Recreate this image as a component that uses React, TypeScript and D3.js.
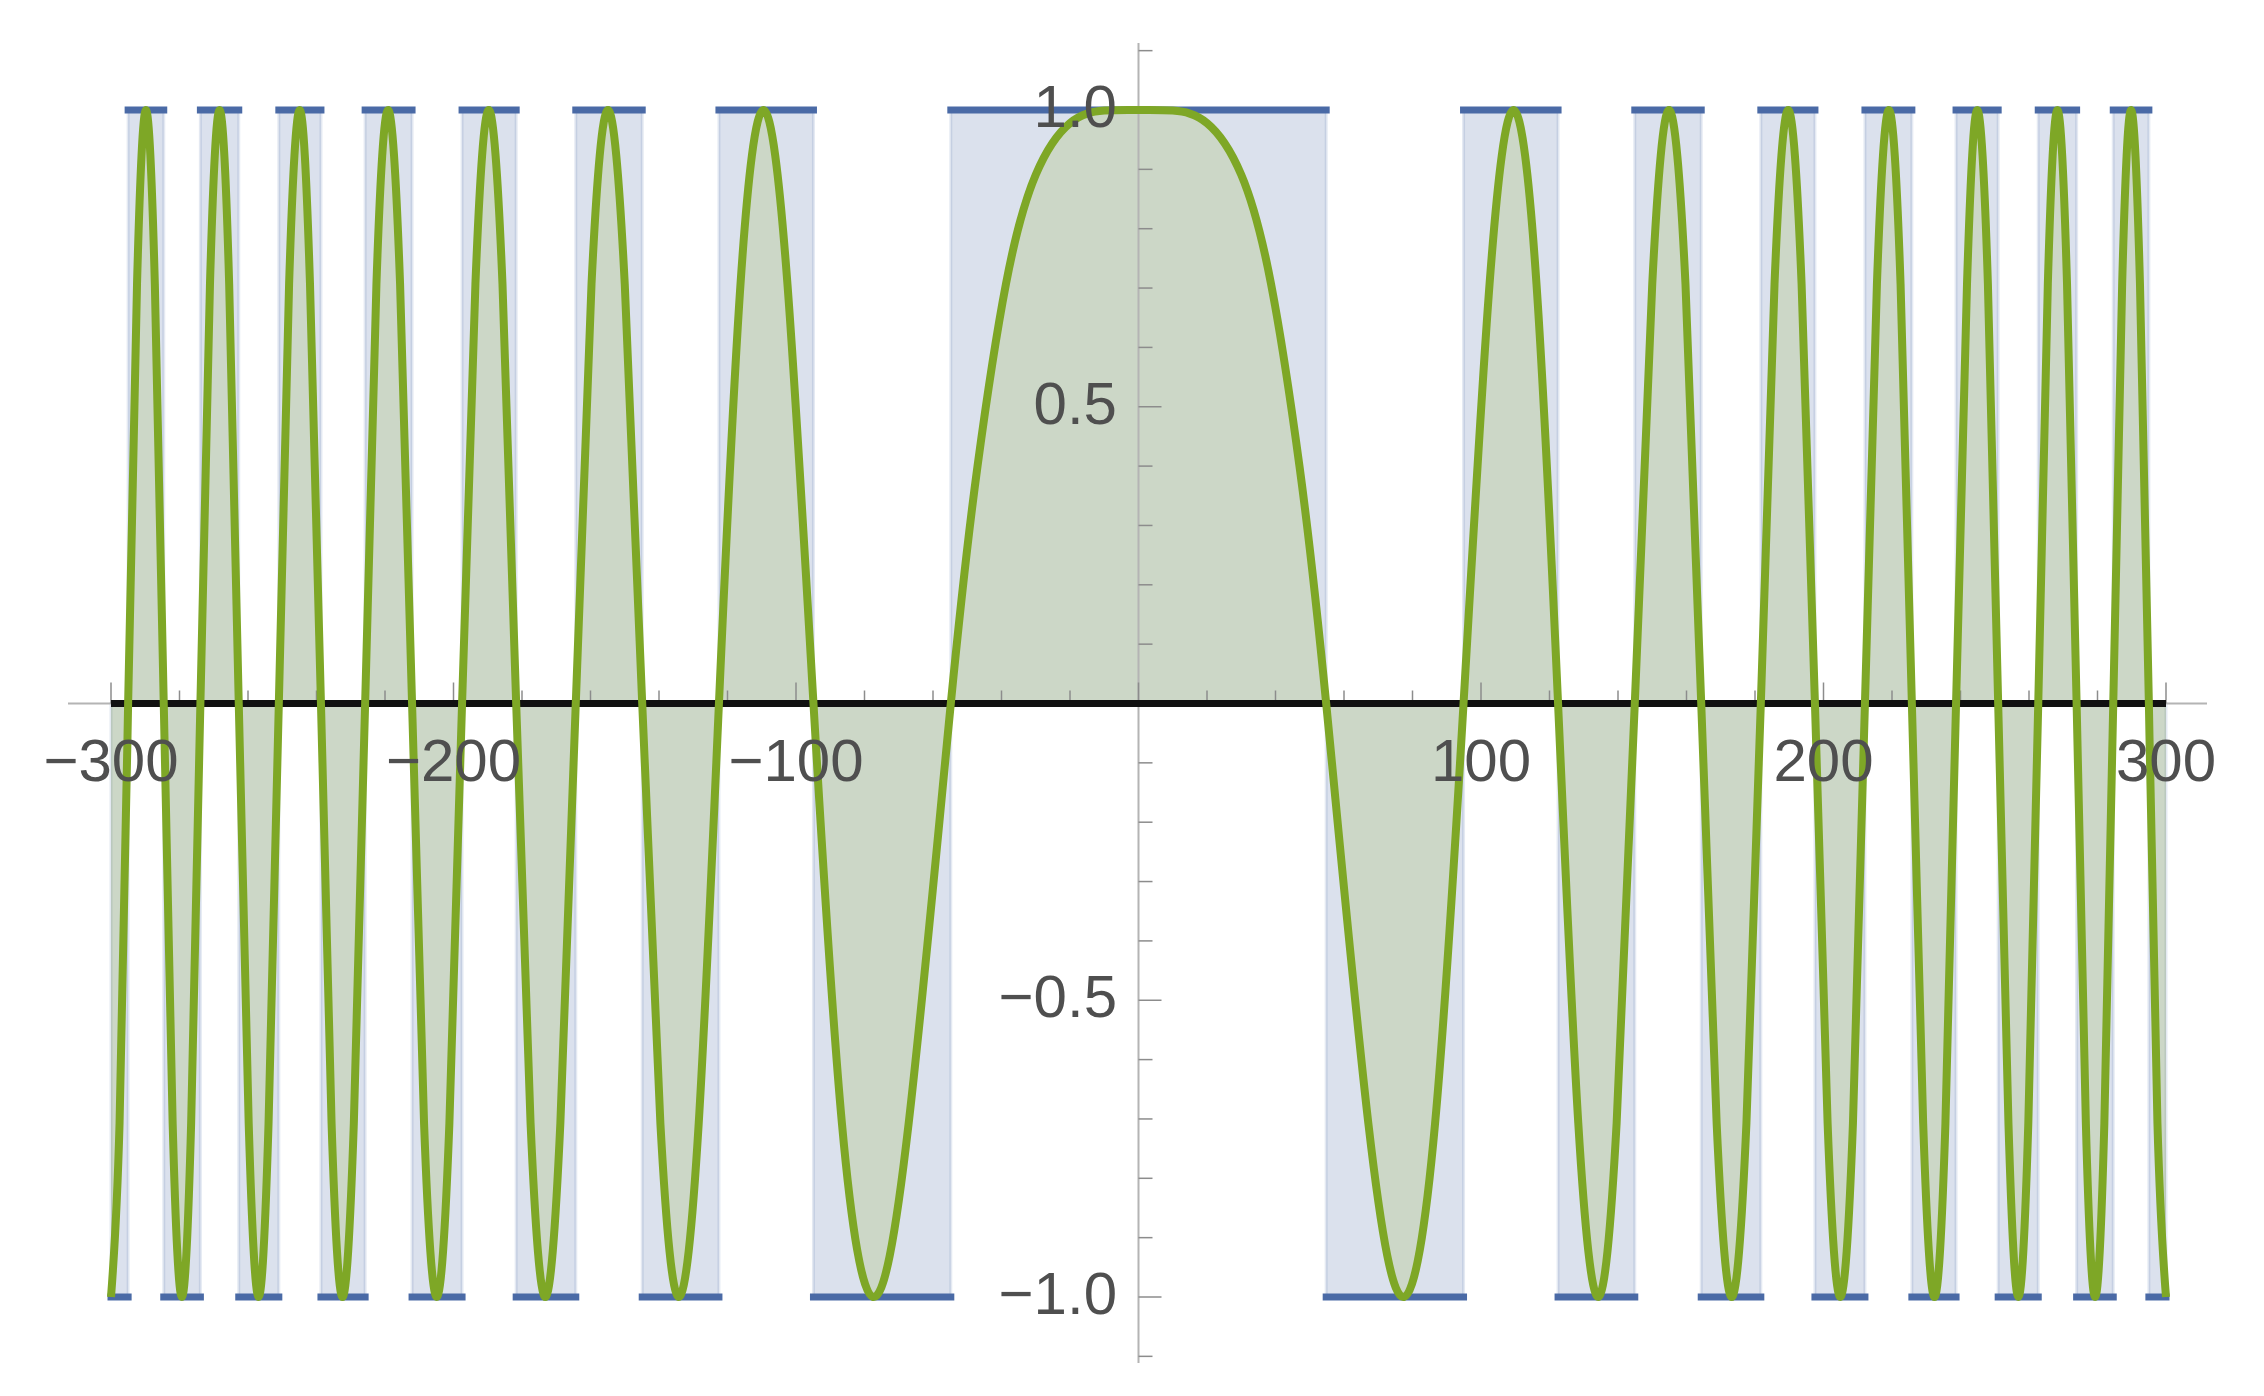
import React, { useEffect } from "react";
import * as d3 from "d3";

// Points on the green curve (x, value), left half
const curveLeft: [number, number][] = [
  [-300.0, -1], [-297.5, -0.707], [-295.0, 0], [-292.4, 0.707], [-289.8, 1],
  [-287.2, 0.707], [-284.6, 0], [-282.0, -0.707], [-279.3, -1], [-276.6, -0.707],
  [-273.9, 0], [-271.1, 0.707], [-268.3, 1], [-265.5, 0.707], [-262.7, 0],
  [-259.8, -0.707], [-256.9, -1], [-254.0, -0.707], [-251.0, 0], [-248.0, 0.707],
  [-244.9, 1], [-241.9, 0.707], [-238.7, 0], [-235.6, -0.707], [-232.4, -1],
  [-229.1, -0.707], [-225.8, 0], [-222.5, 0.707], [-219.1, 1], [-215.6, 0.707],
  [-212.1, 0], [-208.6, -0.707], [-204.9, -1], [-201.2, -0.707], [-197.5, 0],
  [-193.6, 0.707], [-189.7, 1], [-185.7, 0.707], [-181.7, 0], [-177.5, -0.707],
  [-173.2, -1], [-168.8, -0.707], [-164.3, 0], [-159.7, 0.707], [-154.9, 1],
  [-150.0, 0.707], [-144.9, 0], [-139.6, -0.707], [-134.2, -1], [-128.4, -0.707],
  [-122.5, 0], [-116.2, 0.707], [-109.5, 1], [-102.5, 0.707], [-94.9, 0],
  [-86.6, -0.707], [-77.5, -1], [-67.1, -0.707], [-54.8, 0], [-47.0, 0.4],
  [-38.7, 0.707], [-30.0, 0.891], [-20.0, 0.978], [-10.0, 0.999],
];
// centre and right half
const curveRight: [number, number][] = [
  [0, 1], [10.0, 0.999], [20.0, 0.978], [30.0, 0.891], [38.7, 0.707],
  [47.0, 0.4], [54.8, 0], [67.1, -0.707], [77.5, -1], [86.6, -0.707],
  [94.9, 0], [102.5, 0.707], [109.5, 1], [116.2, 0.707], [122.5, 0],
  [128.4, -0.707], [134.2, -1], [139.6, -0.707], [144.9, 0], [150.0, 0.707],
  [154.9, 1], [159.7, 0.707], [164.3, 0], [168.8, -0.707], [173.2, -1],
  [177.5, -0.707], [181.7, 0], [185.7, 0.707], [189.7, 1], [193.6, 0.707],
  [197.5, 0], [201.2, -0.707], [204.9, -1], [208.6, -0.707], [212.1, 0],
  [215.6, 0.707], [219.1, 1], [222.5, 0.707], [225.8, 0], [229.1, -0.707],
  [232.4, -1], [235.6, -0.707], [238.7, 0], [241.9, 0.707], [244.9, 1],
  [248.0, 0.707], [251.0, 0], [254.0, -0.707], [256.9, -1], [259.8, -0.707],
  [262.7, 0], [265.5, 0.707], [268.3, 1], [271.1, 0.707], [273.9, 0],
  [276.6, -0.707], [279.3, -1], [282.0, -0.707], [284.6, 0], [287.2, 0.707],
  [289.8, 1], [292.4, 0.707], [295.0, 0], [297.5, -0.707], [300.0, -1],
];

// Zero crossings (edges of the blue sign steps)
const zeroCrossings = [
  -295.0, -284.6, -273.9, -262.7, -251.0, -238.7, -225.8, -212.1, -197.5, -181.7,
  -164.3, -144.9, -122.5, -94.9, -54.8,
  54.8, 94.9, 122.5, 144.9, 164.3, 181.7, 197.5, 212.1, 225.8, 238.7,
  251.0, 262.7, 273.9, 284.6, 295.0,
];
const stepSigns = [
  -1, 1, -1, 1, -1, 1, -1, 1, -1, 1, -1, 1, -1, 1, -1,
  1, -1, 1, -1, 1, -1, 1, -1, 1, -1, 1, -1, 1, -1, 1, -1,
];

const xMajorTicks = [-300, -200, -100, 100, 200, 300];
const xLabels = ["−300", "−200", "−100", "100", "200", "300"];
const yMajorTicks = [-1, -0.5, 0.5, 1];
const yLabels = ["−1.0", "−0.5", "0.5", "1.0"];
const xMinorTicks = d3.range(-300, 301, 20);
const yMinorTicks = d3.range(-11, 12).map((v) => v / 10);

const W = 2264;
const H = 1396;

export default function App() {
  useEffect(() => {
    document.body.style.margin = "0";
  }, []);

  const x = d3.scaleLinear().domain([-300, 300]).range([111, 2166]);
  const y = d3.scaleLinear().domain([-1, 1]).range([1297, 110]);

  const curvePts: [number, number][] = [...curveLeft, ...curveRight];

  const line = d3
    .line<[number, number]>()
    .x((d) => x(d[0]))
    .y((d) => y(d[1]))
    .curve(d3.curveNatural);
  const area = d3
    .area<[number, number]>()
    .x((d) => x(d[0]))
    .y0(y(0))
    .y1((d) => y(d[1]))
    .curve(d3.curveNatural);

  const bounds = [-300, ...zeroCrossings, 300];
  const intervals = d3.pairs(bounds).map(([a, b], i) => ({
    a,
    b,
    s: stepSigns[i],
  }));

  const axisColor = "#b4b4b4";
  const tickColor = "#8c8c8c";
  const font = "'Liberation Sans', Arial, Helvetica, sans-serif";

  return (
    <svg
      width={W}
      height={H}
      style={{ position: "absolute", left: 0, top: 0, background: "#fff" }}
    >
      {/* blue filling */}
      {intervals.map((iv, i) => (
        <rect
          key={"bf" + i}
          x={x(iv.a)}
          width={x(iv.b) - x(iv.a)}
          y={Math.min(y(0), y(iv.s))}
          height={Math.abs(y(iv.s) - y(0))}
          fill="rgba(74,106,166,0.2)"
          stroke="rgba(74,106,166,0.15)"
          strokeWidth={3}
        />
      ))}

      {/* green filling */}
      <path d={area(curvePts) || ""} fill="rgba(143,176,50,0.2)" />

      {/* axes */}
      <line x1={68} x2={2207} y1={y(0)} y2={y(0)} stroke={axisColor} strokeWidth={2} />
      <line x1={x(0)} x2={x(0)} y1={43} y2={1363} stroke={axisColor} strokeWidth={2} />
      {xMinorTicks.map((t) => {
        const major = t % 100 === 0;
        return (
          <line
            key={"xt" + t}
            x1={x(t)}
            x2={x(t)}
            y1={y(0)}
            y2={y(0) - (major ? 21 : 13)}
            stroke={tickColor}
            strokeWidth={1.5}
          />
        );
      })}
      {yMinorTicks.map((t) => {
        const major = Math.abs(t * 10) % 5 === 0;
        if (t === 0) return null;
        return (
          <line
            key={"yt" + t}
            x1={x(0)}
            x2={x(0) + (major ? 23 : 14)}
            y1={y(t)}
            y2={y(t)}
            stroke={tickColor}
            strokeWidth={1.5}
          />
        );
      })}

      {/* black zero line */}
      <line
        x1={x(-300)}
        x2={x(300)}
        y1={y(0)}
        y2={y(0)}
        stroke="#111"
        strokeWidth={7}
      />

      {/* blue step lines */}
      {intervals.map((iv, i) => (
        <line
          key={"bl" + i}
          x1={x(iv.a)}
          x2={x(iv.b)}
          y1={y(iv.s)}
          y2={y(iv.s)}
          stroke="#4a6aa6"
          strokeWidth={7}
          strokeLinecap="square"
        />
      ))}

      {/* green curve */}
      <path
        d={line(curvePts) || ""}
        fill="none"
        stroke="#7ea726"
        strokeWidth={8}
        strokeLinejoin="round"
      />

      {/* tick labels */}
      {xMajorTicks.map((t, i) => (
        <text
          key={"xl" + t}
          x={x(t)}
          y={y(0) + 77}
          textAnchor="middle"
          fontFamily={font}
          fontSize={60}
          fill="#4f4f4f"
        >
          {xLabels[i]}
        </text>
      ))}
      {yMajorTicks.map((t, i) => (
        <text
          key={"yl" + t}
          x={1117}
          y={y(t) + 17}
          textAnchor="end"
          fontFamily={font}
          fontSize={60}
          fill="#4f4f4f"
        >
          {yLabels[i]}
        </text>
      ))}
    </svg>
  );
}
